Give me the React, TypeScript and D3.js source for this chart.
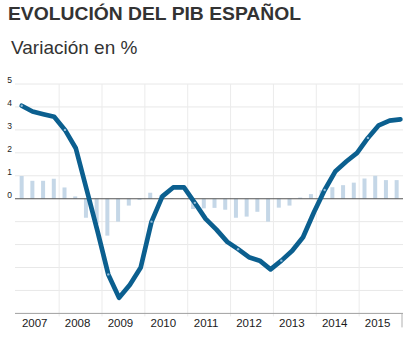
import React from "react";
import * as d3 from "d3";

const years = ["2007", "2008", "2009", "2010", "2011", "2012", "2013", "2014", "2015"];
const quarters = years.flatMap((y) => ["T1", "T2", "T3", "T4"].map((q) => `${y}-${q}`));

// Year-on-year GDP change (line), one value per quarter
const annualChange = [
  4.05, 3.8, 3.68, 3.57,
  3.0, 2.2, 0.4, -1.4,
  -3.3, -4.32, -3.75, -3.0,
  -1.0, 0.1, 0.49, 0.49,
  -0.18, -0.88, -1.35, -1.88,
  -2.2, -2.55, -2.7, -3.08,
  -2.7, -2.27, -1.68, -0.6,
  0.38, 1.2, 1.62, 2.0,
  2.65, 3.2, 3.4, 3.46,
];

// Quarter-on-quarter GDP change (bars)
const quarterlyChange = [
  0.99, 0.78, 0.78, 0.87,
  0.49, 0.1, -0.83, -1.1,
  -1.61, -1.0, -0.3, -0.05,
  0.26, 0.15, 0.03, 0.03,
  -0.45, -0.42, -0.4, -0.48,
  -0.83, -0.78, -0.57, -1.0,
  -0.39, -0.3, 0.05, 0.2,
  0.37, 0.5, 0.59, 0.7,
  0.88, 1.0, 0.81, 0.81,
];

const yTickLabels = [0, 1, 2, 3, 4, 5];
const yGridValues = [-4, -3, -2, -1, 1, 2, 3, 4, 5];

const W = 414;
const H = 345;
const font = "'Liberation Sans', Arial, sans-serif";

export default function App() {
  const x0 = 16.3;
  const x1 = 402;
  const y = d3.scaleLinear().domain([-5, 5]).range([313.4, 84]);
  const xBar = d3.scalePoint<string>().domain(quarters).range([x0, x1]).padding(0.5);
  const xLine = d3.scalePoint<string>().domain(quarters).range([21.7, 400.4]).padding(0);
  const xYear = d3.scaleBand<string>().domain(years).range([x0, x1]);

  const lineGen = d3
    .line<number>()
    .x((_, i) => xLine(quarters[i]) as number)
    .y((d) => y(d));

  const barW = 4;

  return (
    <div style={{ position: "absolute", left: 0, top: 0 }}>
      <svg width={W} height={H} style={{ display: "block", background: "#fff" }}>
        <text x={8} y={20} fontFamily={font} fontWeight="bold" fontSize={18} fill="#333"
          textLength={293} lengthAdjust="spacingAndGlyphs">
          EVOLUCIÓN DEL PIB ESPAÑOL
        </text>
        <text x={11} y={54} fontFamily={font} fontSize={19} fill="#333">
          Variación en %
        </text>

        {/* horizontal grid */}
        {yGridValues.map((v) => (
          <line key={v} x1={15} x2={403} y1={y(v)} y2={y(v)} stroke="#e8e8e8" strokeWidth={1} />
        ))}
        {/* vertical year grid */}
        {years.slice(1).map((yr) => (
          <line key={yr} x1={xYear(yr)!} x2={xYear(yr)!} y1={y(5)} y2={y(-5) + 3}
            stroke="#ebebeb" strokeWidth={1} />
        ))}
        {/* bottom axis */}
        <line x1={15} x2={403} y1={y(-5)} y2={y(-5)} stroke="#a0a0a0" strokeWidth={1} />
        <line x1={x1} x2={x1} y1={y(-5)} y2={y(-5) + 14} stroke="#b0b0b0" strokeWidth={1} />

        {/* bars */}
        {quarterlyChange.map((v, i) => (
          <rect key={i} x={(xBar(quarters[i]) as number) - barW / 2}
            y={Math.min(y(v), y(0))} width={barW} height={Math.abs(y(v) - y(0))}
            fill="#c5d7e7" />
        ))}

        {/* zero line */}
        <line x1={15} x2={403} y1={y(0)} y2={y(0)} stroke="#555" strokeWidth={1.1} />

        {/* line */}
        <path d={lineGen(annualChange) || ""} fill="none" stroke="#0b5f8f" strokeWidth={4.7}
          strokeLinejoin="round" strokeLinecap="round" />
        {annualChange.map((v, i) =>
          i % 4 === 0 ? (
            <circle key={i} cx={xLine(quarters[i]) as number} cy={y(v)} r={1.2} fill="#8fb9d6" />
          ) : null
        )}

        {/* y labels */}
        {yTickLabels.map((v) => (
          <text key={v} x={9.5} y={y(v) - 0.8} textAnchor="middle" fontFamily={font}
            fontSize={8.5} fill="#222">
            {v}
          </text>
        ))}

        {/* x labels */}
        {years.map((yr) => (
          <text key={yr} x={xYear(yr)! + xYear.bandwidth() / 2 - 3} y={326.7} textAnchor="middle"
            fontFamily={font} fontSize={11.5} fill="#1a1a1a">
            {yr}
          </text>
        ))}
      </svg>
    </div>
  );
}
